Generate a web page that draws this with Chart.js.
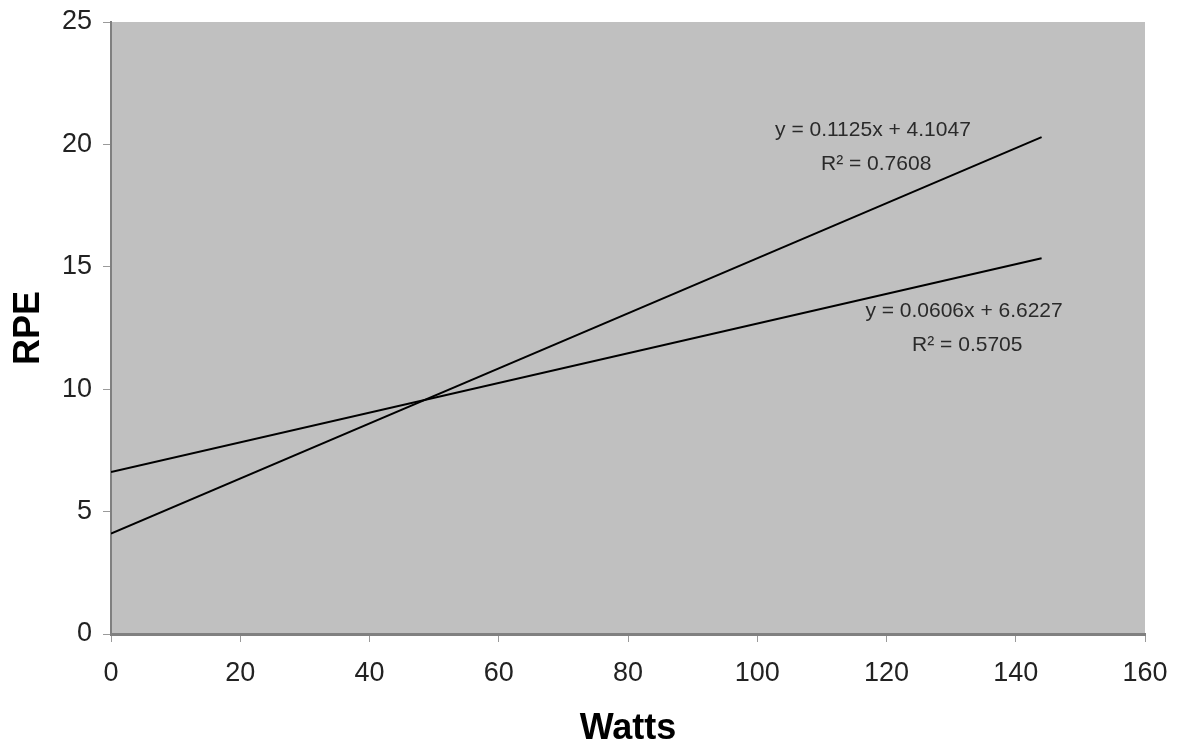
<!DOCTYPE html>
<html>
<head>
<meta charset="utf-8">
<script src="https://cdn.jsdelivr.net/npm/chart.js@4.4.0/dist/chart.umd.min.js"></script>
<style>
  html, body { margin: 0; padding: 0; background: #fff; }
  #wrap { width: 1178px; height: 751px; }
</style>
</head>
<body>
<div id="wrap"><canvas id="rpeChart" width="1178" height="751"></canvas></div>
<script>
// Trendline end points
const watts = [0, 144];
const rpeSteep = [4.1, 20.3];   // y = 0.1125x + 4.1047
const rpeFlat = [6.62, 15.35];  // y = 0.0606x + 6.6227

const equationLabels = [
    ['y = 0.1125x + 4.1047', 'R\u00b2 = 0.7608'],
    ['y = 0.0606x + 6.6227', 'R\u00b2 = 0.5705']
];

const xTicks = [0, 20, 40, 60, 80, 100, 120, 140, 160];
const yTicks = [0, 5, 10, 15, 20, 25];

const tickFont = { family: "'Liberation Sans', Arial, sans-serif", size: 27 };
const titleFont = { family: "'Liberation Sans', Arial, sans-serif", size: 36, weight: 'bold' };

const toPoints = (xs, ys) => xs.map((x, i) => ({ x: x, y: ys[i] }));

// gray plot area
const plotBackground = {
    id: 'plotBackground',
    beforeDraw(chart) {
        const { ctx, chartArea } = chart;
        ctx.save();
        ctx.fillStyle = '#c0c0c0';
        ctx.fillRect(chartArea.left, chartArea.top, chartArea.right - chartArea.left, chartArea.bottom - chartArea.top);
        ctx.restore();
    }
};

// equation text next to each trendline (anchored in data units)
const equationText = {
    id: 'equationText',
    afterDatasetsDraw(chart) {
        const ctx = chart.ctx;
        const xs = chart.scales.x, ys = chart.scales.y;
        const anchors = [
            [{ x: 117.9, y: 20.6 }, { x: 118.4, y: 19.2 }],
            [{ x: 132.0, y: 13.2 }, { x: 132.5, y: 11.8 }]
        ];
        ctx.save();
        ctx.fillStyle = '#2a2a2a';
        ctx.font = "21px 'Liberation Sans', Arial, sans-serif";
        ctx.textAlign = 'center';
        ctx.textBaseline = 'middle';
        equationLabels.forEach((lines, i) => {
            lines.forEach((line, j) => {
                const a = anchors[i][j];
                ctx.fillText(line, xs.getPixelForValue(a.x), ys.getPixelForValue(a.y));
            });
        });
        ctx.restore();
    }
};

new Chart(document.getElementById('rpeChart'), {
    type: 'scatter',
    data: {
        datasets: [
            {
                data: toPoints(watts, rpeSteep),
                showLine: true,
                borderColor: '#000',
                borderWidth: 2,
                pointRadius: 0
            },
            {
                data: toPoints(watts, rpeFlat),
                showLine: true,
                borderColor: '#000',
                borderWidth: 2,
                pointRadius: 0
            }
        ]
    },
    options: {
        responsive: false,
        animation: false,
        layout: { padding: { left: 0, top: 22, right: 33, bottom: 0 } },
        plugins: {
            legend: { display: false },
            tooltip: { enabled: false }
        },
        scales: {
            x: {
                type: 'linear',
                min: 0,
                max: 160,
                afterBuildTicks: (scale) => { scale.ticks = xTicks.map(v => ({ value: v })); },
                afterFit: (scale) => {
                    scale.height = 117;
                    scale.paddingLeft = 0;
                    scale.paddingRight = 0;
                },
                grid: { drawOnChartArea: false, drawTicks: true, tickLength: 8, color: '#9a9a9a', lineWidth: 1 },
                border: { color: '#808080', width: 3 },
                ticks: { color: '#222', font: tickFont, padding: 15, maxRotation: 0 },
                title: { display: true, text: 'Watts', color: '#000', font: titleFont, padding: { top: 0, bottom: 0 } }
            },
            y: {
                min: 0,
                max: 25,
                afterBuildTicks: (scale) => { scale.ticks = yTicks.map(v => ({ value: v })); },
                afterFit: (scale) => {
                    scale.width = 111;
                    scale.paddingTop = 0;
                    scale.paddingBottom = 0;
                },
                grid: { drawOnChartArea: false, drawTicks: true, tickLength: 8, color: '#9a9a9a', lineWidth: 1 },
                border: { color: '#808080', width: 2 },
                ticks: { color: '#222', font: tickFont, padding: 11 },
                title: { display: true, text: 'RPE', color: '#000', font: titleFont, padding: { top: 7, bottom: 0 } }
            }
        }
    },
    plugins: [plotBackground, equationText]
});
</script>
</body>
</html>
